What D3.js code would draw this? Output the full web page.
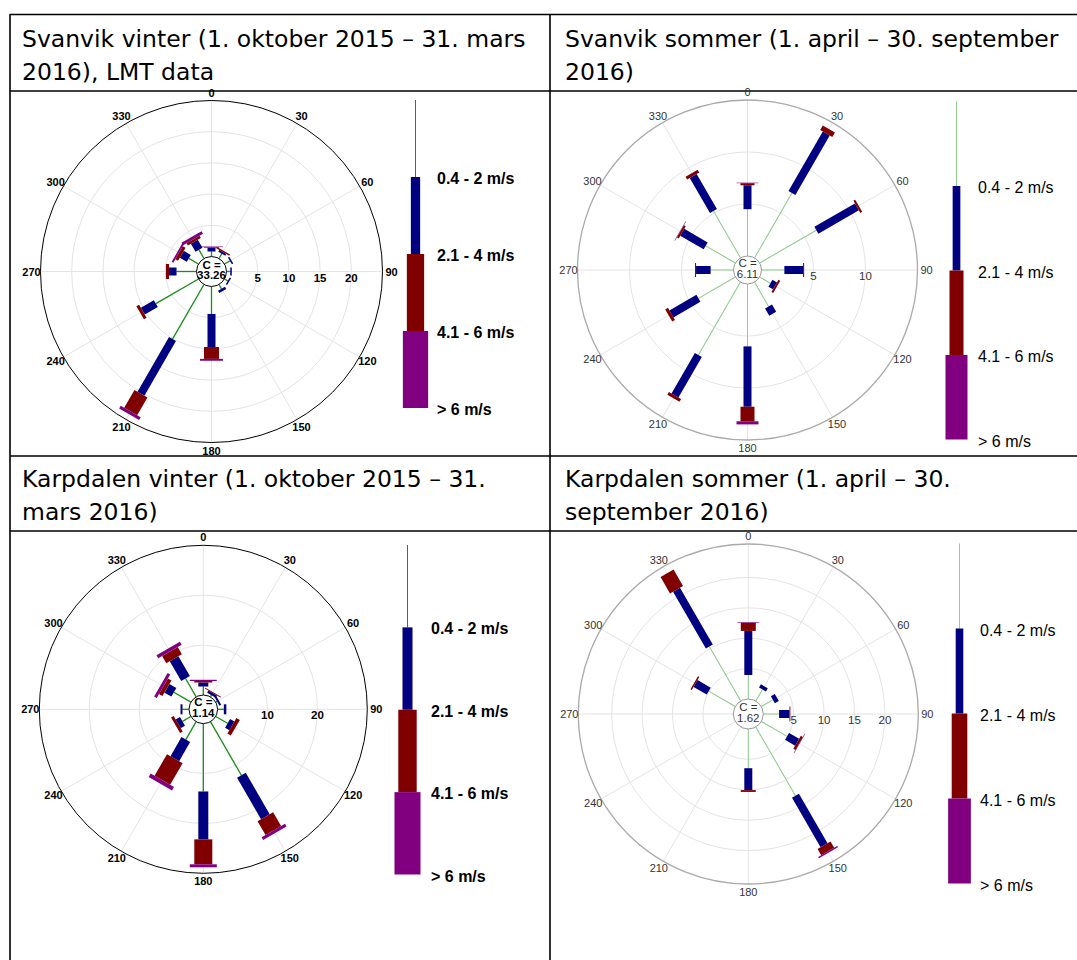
<!DOCTYPE html>
<html>
<head>
<meta charset="utf-8">
<script src="https://cdn.jsdelivr.net/npm/d3@7"></script>
<style>
body { margin: 0; background: #fff; }
svg { display: block; }
</style>
</head>
<body>
<div id="main"></div>
<script>
// directions of the 12 sectors (degrees, clockwise from north)
const directions = [0, 30, 60, 90, 120, 150, 180, 210, 240, 270, 300, 330];
const angleTicks = [0, 30, 60, 90, 120, 150, 180, 210, 240, 270, 300, 330];
const speedLabels = ["0.4 - 2 m/s", "2.1 - 4 m/s", "4.1 - 6 m/s", "> 6 m/s"];

// frequency (%) per direction, one row per sector: [line, navy, red, purple]
const svanvikVinter = [
  [0.8, 0.6, 0.1, 0.1], [0.9, 0.3, 0.25, 0], [1.0, 0.25, 0, 0], [0.6, 0.25, 0, 0],
  [0.6, 0.25, 0, 0], [0.8, 0.4, 0, 0], [4.4, 5.3, 1.9, 0.3], [10.1, 10.1, 3.3, 0.5],
  [7.9, 2.4, 0.5, 0], [3.2, 1.2, 0.5, 0], [1.8, 1.3, 0.5, 0.3], [1.6, 1.5, 0.4, 0.5]
];
const svanvikSommer = [
  [4.5, 2.3, 0.2, 0.05], [7.2, 6.6, 0.5, 0], [6.3, 4.5, 0.2, 0], [2.2, 1.8, 0.1, 0],
  [1.2, 0.5, 0.2, 0], [2.7, 0.8, 0, 0], [6.0, 5.8, 1.4, 0.3], [8.1, 4.5, 0.3, 0],
  [4.1, 3.0, 0.3, 0], [2.2, 1.4, 0.1, 0], [3.3, 2.6, 0.2, 0.05], [5.2, 3.9, 0.3, 0]
];
const karpdalenVinter = [
  [1.7, 0.8, 0.3, 0.25], [0.4, 0.5, 0.2, 0], [0.3, 0.4, 0, 0], [1.25, 0.5, 0, 0],
  [2.75, 1.0, 0.8, 0], [12.4, 9.6, 3.2, 0.6], [13.6, 9.6, 5.0, 0.6], [4.15, 4.4, 5.0, 0.8],
  [1.95, 1.0, 0.6, 0], [1.3, 0.4, 0, 0], [3.95, 1.6, 0.8, 0.6], [4.25, 4.6, 1.65, 0.7]
];
const karpdalenSommer = [
  [3.95, 7.25, 1.35, 0.1], [2.2, 0.6, 0, 0], [2.2, 0.75, 0, 0], [2.6, 1.7, 0.15, 0],
  [4.9, 1.9, 0.4, 0.08], [13.05, 9.4, 1.2, 0.25], [6.45, 3.6, 0.3, 0], [0, 0, 0, 0],
  [0, 0, 0, 0], [0, 0, 0, 0], [5.05, 2.5, 0.25, 0], [10.35, 10.8, 3.1, 0]
];
const calmValues = ["33.26", "6.11", "1.14", "1.62"];
const ringTicks = [[5, 10, 15, 20], [5, 10], [10, 20], [5, 10, 15, 20]];
const ringMax = [25, 15, 30, 25];
const titles = [
  ["Svanvik vinter (1. oktober 2015 – 31. mars", "2016), LMT data"],
  ["Svanvik sommer (1. april – 30. september", "2016)"],
  ["Karpdalen vinter (1. oktober 2015 – 31.", "mars 2016)"],
  ["Karpdalen sommer (1. april – 30.", "september 2016)"]
];

const segColors = ["#008000", "#000080", "#800000", "#800080"];

const width = 1077;
const height = 960;

const svg = d3.select('#main')
              .append('svg')
              .attr('width', width)
              .attr('height', height);

// table grid
[14.5, 91, 456, 531].forEach(y => {
  svg.append('line').attr('x1', 10).attr('x2', width).attr('y1', y).attr('y2', y)
     .attr('stroke', '#000').attr('stroke-width', 1.6);
});
[10, 550].forEach(x => {
  svg.append('line').attr('x1', x).attr('x2', x).attr('y1', 14).attr('y2', height)
     .attr('stroke', '#000').attr('stroke-width', 1.6);
});

// header cells
const titlePos = [[22, 47], [565, 47], [22, 487], [565, 487]];
titles.forEach((lines, i) => {
  lines.forEach((t, j) => {
    svg.append('text')
       .attr('x', titlePos[i][0])
       .attr('y', titlePos[i][1] + j * 33)
       .style('font-family', 'DejaVu Sans, sans-serif')
       .style('font-size', '23.5px')
       .attr('fill', '#000')
       .text(t);
  });
});

// layout for each rose
const plots = [
  {data: svanvikVinter, cx: 211.5, cy: 271.5, R: 171, r0: 15, rEnd: 171, bold: true,
   lineColor: '#1a8f1a', lineWidth: 1.3, outer: '#000', calmStroke: '#000', widths: [1, 8, 15, 23],
   legend: {x: 415.5, top: 100, bottom: 408, lx: 437, widths: [1, 9.3, 17.3, 25.3]}},
  {data: svanvikSommer, cx: 747.5, cy: 270, R: 170, r0: 14, rEnd: 170, bold: false,
   lineColor: '#8fd08f', lineWidth: 1, outer: '#aaa', calmStroke: '#999', widths: [1, 8, 14, 22],
   legend: {x: 956.5, top: 101.5, bottom: 439.5, lx: 978, widths: [1, 7.7, 14, 22]}},
  {data: karpdalenVinter, cx: 203.3, cy: 709.3, R: 164, r0: 14.3, rEnd: 164, bold: true,
   lineColor: '#1a8f1a', lineWidth: 1.3, outer: '#000', calmStroke: '#000', widths: [1, 10, 18, 27],
   legend: {x: 407.5, top: 545, bottom: 874.5, lx: 431, widths: [1, 10, 18.4, 26]}},
  {data: karpdalenSommer, cx: 748.3, cy: 714, R: 170, r0: 15, rEnd: 167, bold: false,
   lineColor: '#8fd08f', lineWidth: 1, outer: '#aaa', calmStroke: '#999', widths: [1, 8, 15, 22],
   legend: {x: 959.5, top: 543.5, bottom: 883.5, lx: 980, widths: [1, 7.6, 15.6, 22.7]}}
];

const rad = d => d * Math.PI / 180;

plots.forEach((p, pi) => {
  const g = svg.append('g').attr('transform', 'translate(' + p.cx + ',' + p.cy + ')');
  const r = d3.scaleLinear().domain([0, ringMax[pi]]).range([p.r0, p.rEnd]);
  const textColor = p.bold ? '#000' : '#333';
  const weight = p.bold ? 'bold' : 'normal';

  // grid rings and spokes
  g.selectAll('circle.ring').data(ringTicks[pi]).enter()
   .append('circle').attr('class', 'ring')
   .attr('r', d => r(d)).attr('fill', 'none').attr('stroke', '#e4e4e4').attr('stroke-width', 1);
  g.selectAll('line.spoke').data(angleTicks).enter()
   .append('line').attr('class', 'spoke')
   .attr('x1', 0).attr('y1', 0)
   .attr('x2', d => p.R * Math.sin(rad(d)))
   .attr('y2', d => -p.R * Math.cos(rad(d)))
   .attr('stroke', '#e4e4e4').attr('stroke-width', 1);
  g.append('circle').attr('r', p.R).attr('fill', 'none')
   .attr('stroke', p.outer).attr('stroke-width', p.bold ? 1 : 1.3);

  // angle labels
  g.selectAll('text.ang').data(angleTicks).enter()
   .append('text').attr('class', 'ang')
   .attr('x', d => (p.R + 9) * Math.sin(rad(d)))
   .attr('y', d => -(p.R + 8) * Math.cos(rad(d)))
   .attr('text-anchor', 'middle').attr('dominant-baseline', 'central')
   .style('font-family', 'Liberation Sans, Arial, sans-serif')
   .style('font-size', '11px').style('font-weight', weight)
   .attr('fill', textColor)
   .text(d => d);

  // ring labels along the east axis
  g.selectAll('text.ringlab').data(ringTicks[pi]).enter()
   .append('text').attr('class', 'ringlab')
   .attr('x', d => r(d)).attr('y', 6)
   .attr('text-anchor', 'middle').attr('dominant-baseline', 'central')
   .style('font-family', 'Liberation Sans, Arial, sans-serif')
   .style('font-size', '11.5px').style('font-weight', weight)
   .attr('fill', textColor)
   .text(d => d);

  // stacked bars per direction
  const stacks = g.selectAll('g.dir').data(directions).enter()
   .append('g').attr('class', 'dir')
   .attr('transform', d => 'rotate(' + d + ')');
  stacks.each(function(dir, i) {
    const vals = p.data[i];
    const cum = d3.cumsum(vals);
    const s = d3.select(this);
    if (vals[0] > 0) {
      s.append('line').attr('x1', 0).attr('x2', 0)
       .attr('y1', -r(0)).attr('y2', -r(cum[0]))
       .attr('stroke', p.lineColor).attr('stroke-width', p.lineWidth);
    }
    for (let k = 1; k < 4; k++) {
      if (vals[k] <= 0) continue;
      s.append('rect')
       .attr('x', -p.widths[k] / 2).attr('width', p.widths[k])
       .attr('y', -r(cum[k])).attr('height', r(cum[k]) - r(cum[k - 1]))
       .attr('fill', segColors[k]);
    }
  });

  // calm circle
  g.append('circle').attr('r', p.r0).attr('fill', '#fff')
   .attr('stroke', p.calmStroke).attr('stroke-width', 1);
  ['C =', calmValues[pi]].forEach((t, j) => {
    g.append('text').attr('x', 0).attr('y', j === 0 ? -7 : 3.5)
     .attr('text-anchor', 'middle').attr('dominant-baseline', 'central')
     .style('font-family', 'Liberation Sans, Arial, sans-serif')
     .style('font-size', '11.5px').style('font-weight', weight)
     .attr('fill', textColor)
     .text(t);
  });

  // legend
  const L = p.legend;
  const ly = d3.scaleLinear().domain([0, 4]).range([L.top, L.bottom]);
  const lg = svg.append('g');
  lg.append('line').attr('x1', L.x).attr('x2', L.x).attr('y1', ly(0)).attr('y2', ly(1))
    .attr('stroke', p.lineColor).attr('stroke-width', 1);
  for (let k = 1; k < 4; k++) {
    lg.append('rect').attr('x', L.x - L.widths[k] / 2).attr('width', L.widths[k])
      .attr('y', ly(k)).attr('height', ly(k + 1) - ly(k))
      .attr('fill', segColors[k]);
  }
  speedLabels.forEach((t, k) => {
    lg.append('text').attr('x', L.lx).attr('y', ly(k + 1) + 1.5)
      .attr('dominant-baseline', 'central')
      .style('font-family', 'Liberation Sans, Arial, sans-serif')
      .style('font-size', '16px').style('font-weight', weight)
      .attr('fill', '#000')
      .text(t);
  });
});
</script>
</body>
</html>
